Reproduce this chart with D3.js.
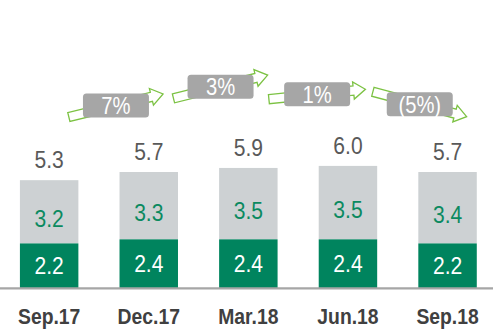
<!DOCTYPE html>
<html>
<head>
<meta charset="utf-8">
<script src="https://cdn.jsdelivr.net/npm/d3@7"></script>
<style>
  html, body { margin: 0; padding: 0; background: #fff; }
  svg { display: block; }
  text { font-family: "Liberation Sans", Arial, sans-serif; }
</style>
</head>
<body>
<svg id="chart" width="493" height="329"></svg>
<script>
// Quarterly figures
const periods = ["Sep.17", "Dec.17", "Mar.18", "Jun.18", "Sep.18"];
const baseValues = [2.2, 2.4, 2.4, 2.4, 2.2];     // green segment
const otherValues = [3.2, 3.3, 3.5, 3.5, 3.4];    // grey segment label
const totals = [5.3, 5.7, 5.9, 6.0, 5.7];         // bar total
const changes = ["7%", "3%", "1%", "(5%)"];       // quarter-on-quarter change

// Placement of the change arrows between neighbouring bars
const arrowLayout = [
  { dx: 17, cy: 105.5, angle: -13.7 },
  { dx: 22, cy: 86.7,  angle: -13.9 },
  { dx: 19, cy: 94.2,  angle: -5.8 },
  { dx: 22, cy: 104.2, angle: 14.9 }
];

const W = 493, H = 329;
const NARROW = 0.86;   // horizontal squeeze for a narrow face
const svg = d3.select("#chart");

const x = d3.scaleBand()
  .domain(periods)
  .range([0, 496.7])
  .paddingInner(0.413)
  .paddingOuter(0.2);

const y = d3.scaleLinear().domain([0, 6]).range([288.3, 288.3 - 6 * 20.4]);

const GREEN = "#00845e", GREY = "#cdd1d3";

const rows = periods.map((p, i) => ({
  p, base: baseValues[i], other: otherValues[i], total: totals[i]
}));

// Grey segment: from the green top up to the total
svg.append("g").selectAll("rect").data(rows).join("rect")
  .attr("x", d => x(d.p))
  .attr("width", x.bandwidth())
  .attr("y", d => y(d.total))
  .attr("height", d => y(d.base) - y(d.total))
  .attr("fill", GREY);

// Green segment
svg.append("g").selectAll("rect").data(rows).join("rect")
  .attr("x", d => x(d.p))
  .attr("width", x.bandwidth())
  .attr("y", d => y(d.base))
  .attr("height", d => y(0) - y(d.base))
  .attr("fill", GREEN);

const cx = d => x(d.p) + x.bandwidth() / 2;
const place = (px, py) => `translate(${px},${py}) scale(${NARROW},1)`;
const fmt = d3.format(".1f");
const NUM = 24.5;

// Segment labels
svg.append("g").selectAll("text").data(rows).join("text")
  .attr("transform", d => place(cx(d), (y(d.base) + y(0)) / 2 + 8.5))
  .attr("text-anchor", "middle")
  .attr("font-size", NUM)
  .attr("fill", "#ffffff")
  .text(d => fmt(d.base));

svg.append("g").selectAll("text").data(rows).join("text")
  .attr("transform", d => place(cx(d), (y(d.total) + y(d.base)) / 2 + 15))
  .attr("text-anchor", "middle")
  .attr("font-size", NUM)
  .attr("fill", "#0b8a60")
  .text(d => fmt(d.other));

// Totals above the bars
svg.append("g").selectAll("text").data(rows).join("text")
  .attr("transform", d => place(cx(d), y(d.total) - 12))
  .attr("text-anchor", "middle")
  .attr("font-size", NUM)
  .attr("fill", "#595959")
  .text(d => fmt(d.total));

// Category axis
const axis = svg.append("g")
  .attr("transform", `translate(0,${y(0)})`)
  .call(d3.axisBottom(x).tickSize(0).tickSizeOuter(0).tickPadding(20));
axis.select(".domain")
  .attr("d", `M0,0H${W}`)
  .attr("stroke", "#a6a6a6")
  .attr("stroke-width", 2.2);
axis.selectAll(".tick text")
  .attr("font-family", null)
  .attr("font-size", 22.5)
  .attr("font-weight", "bold")
  .attr("fill", "#404040")
  .attr("transform", `scale(${NARROW},1)`);

// Change arrows with labelled boxes
const L = 97, h = 4.6, Hh = 8.6, hl = 12;
const arrowPath = `M${-L/2},${-h}L${L/2-hl},${-h}L${L/2-hl},${-Hh}L${L/2},0L${L/2-hl},${Hh}L${L/2-hl},${h}L${-L/2},${h}Z`;

const arrows = changes.map((c, i) => {
  const mid = (cx(rows[i]) + cx(rows[i + 1])) / 2;
  return { c, x: mid + arrowLayout[i].dx, y: arrowLayout[i].cy, a: arrowLayout[i].angle };
});

const ag = svg.append("g").selectAll("g").data(arrows).join("g")
  .attr("transform", d => `translate(${d.x},${d.y})`);

ag.append("path")
  .attr("d", arrowPath)
  .attr("transform", d => `rotate(${d.a})`)
  .attr("fill", "#ffffff")
  .attr("stroke", "#7cc243")
  .attr("stroke-width", 1.3)
  .attr("stroke-linejoin", "miter");

ag.append("rect")
  .attr("x", -33).attr("y", -12)
  .attr("width", 66).attr("height", 24)
  .attr("rx", 3.5)
  .attr("fill", "#a6a6a6");

ag.append("text")
  .attr("transform", place(0, 8.5))
  .attr("text-anchor", "middle")
  .attr("font-size", 23.5)
  .attr("fill", "#ffffff")
  .text(d => d.c);
</script>
</body>
</html>
